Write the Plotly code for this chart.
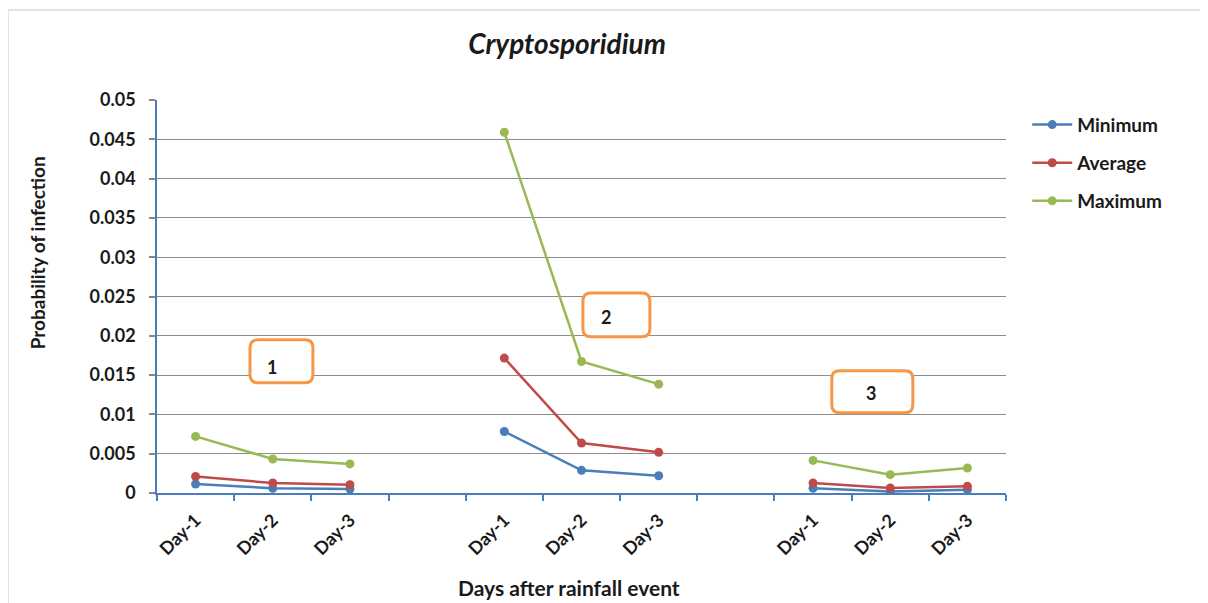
import plotly.graph_objects as go

# ---- data ----
x_pos = [0, 1, 2, 3, 4, 5, 6, 7, 8, 9, 10]
tick_pos = [0, 1, 2, 4, 5, 6, 8, 9, 10]
tick_labels = ["Day-1", "Day-2", "Day-3", "Day-1", "Day-2", "Day-3", "Day-1", "Day-2", "Day-3"]
minimum = [0.00114, 0.0006, 0.0005, None, 0.00783, 0.00288, 0.0022, None, 0.0006, 0.0002, 0.0004]
average = [0.0021, 0.00127, 0.00105, None, 0.01716, 0.00636, 0.00517, None, 0.00127, 0.00063, 0.00085]
maximum = [0.0072, 0.00432, 0.0037, None, 0.0459, 0.01673, 0.01385, None, 0.00415, 0.00233, 0.00318]
y_ticks = [0, 0.005, 0.01, 0.015, 0.02, 0.025, 0.03, 0.035, 0.04, 0.045, 0.05]
y_tick_labels = ["0", "0.005", "0.01", "0.015", "0.02", "0.025", "0.03", "0.035", "0.04", "0.045", "0.05"]
box_labels = ["1", "2", "3"]
box_text_x = [0.99, 5.316, 8.749]
box_text_y = [0.01606, 0.02241, 0.01275]
box_x0 = [0.705, 5.018, 8.243]
box_x1 = [1.52, 5.886, 9.293]
box_y0 = [0.01402, 0.01987, 0.01021]
box_y1 = [0.01949, 0.02546, 0.01556]

FONT = "Lato"
TXT = "#1a1a1a"
series = [("Minimum", minimum, "#4a7ebb"), ("Average", average, "#be4b48"), ("Maximum", maximum, "#98b954")]

fig = go.Figure()
for i, (name, vals, col) in enumerate(series):
    fig.add_trace(go.Scatter(
        x=x_pos, y=vals, name=name, mode="lines+markers",
        line=dict(color=col, width=2.5), marker=dict(color=col, size=9),
        connectgaps=False, showlegend=True,
        legend="legend" if i == 0 else f"legend{i+1}",
    ))

# rounded rectangle shapes in data coordinates
PX_X = 77.2
PX_Y = 7866.0
R = 8.0
def rounded(x0, x1, y0, y1):
    rx = R / PX_X
    ry = R / PX_Y
    return (f"M {x0+rx},{y1} L {x1-rx},{y1} Q {x1},{y1} {x1},{y1-ry} "
            f"L {x1},{y0+ry} Q {x1},{y0} {x1-rx},{y0} L {x0+rx},{y0} "
            f"Q {x0},{y0} {x0},{y0+ry} L {x0},{y1-ry} Q {x0},{y1} {x0+rx},{y1} Z")

shapes = []
annotations = []
for lab, tx, ty, a, b, c, d in zip(box_labels, box_text_x, box_text_y, box_x0, box_x1, box_y0, box_y1):
    shapes.append(dict(type="path", xref="x", yref="y", path=rounded(a, b, c, d),
                       line=dict(color="#f79646", width=3), fillcolor="white", layer="above"))
    annotations.append(dict(x=tx, y=ty, xref="x", yref="y", text=f"<b>{lab}</b>", showarrow=False,
                            font=dict(family=FONT, size=18, color=TXT)))

# axis titles (offset from the plot centre as in the original)
annotations.append(dict(x=-0.1413, y=0.61, xref="paper", yref="paper", text="<b>Probability of infection</b>",
                        textangle=-90, showarrow=False, xanchor="center", yanchor="middle",
                        font=dict(family=FONT, size=19, color=TXT)))
annotations.append(dict(x=0.485, y=-0.241, xref="paper", yref="paper", text="<b>Days after rainfall event</b>",
                        showarrow=False, xanchor="center", yanchor="middle",
                        font=dict(family=FONT, size=21, color=TXT)))

# outer border
shapes.append(dict(type="rect", xref="paper", yref="paper", x0=-0.1755, x1=1.2335, y0=-0.30, y1=1.229,
                   line=dict(color="#d9d9d9", width=1.5), layer="below"))

legend_common = dict(font=dict(family=FONT, size=19, color=TXT, weight="bold"), bgcolor="rgba(0,0,0,0)",
                     xanchor="left", yanchor="middle", x=1.025, itemwidth=40)

fig.update_layout(
    width=1208, height=603,
    margin=dict(l=149, r=210, t=92, b=118, autoexpand=False),
    paper_bgcolor="white", plot_bgcolor="white", showlegend=True,
    title=dict(text="<b><i>Cryptosporidium</i></b>", x=0.483, xref="paper", xanchor="center",
               y=0.94, yanchor="middle",
               font=dict(family=FONT, size=28, color=TXT)),
    xaxis=dict(range=[-0.5, 10.5], tickmode="array", tickvals=tick_pos, ticktext=tick_labels,
               tickangle=-45, ticks="", showgrid=False, zeroline=False, ticklabelstandoff=8,
               showline=True, linecolor="#4a7ebb", linewidth=1.5,
               tickfont=dict(family=FONT, size=18, color=TXT, weight="bold"),
               minor=dict(tickmode="array", tickvals=[v - 0.5 for v in range(12)], ticks="outside",
                          ticklen=6, tickcolor="#4a7ebb", tickwidth=1.5, showgrid=False)),
    yaxis=dict(range=[0, 0.05], tickmode="array", tickvals=y_ticks, ticktext=y_tick_labels,
               ticks="outside", ticklen=6, tickcolor="#888888", tickwidth=1.5,
               ticklabelstandoff=10,
               showgrid=True, gridcolor="#8c8c8c", gridwidth=1.2, zeroline=False,
               showline=True, linecolor="#4a7ebb", linewidth=1.5,
               tickfont=dict(family=FONT, size=18, color=TXT, weight="bold")),
    legend=dict(y=0.937, **legend_common),
    legend2=dict(y=0.840, **legend_common),
    legend3=dict(y=0.743, **legend_common),
    shapes=shapes,
    annotations=annotations,
)

fig.write_html("out.html")
